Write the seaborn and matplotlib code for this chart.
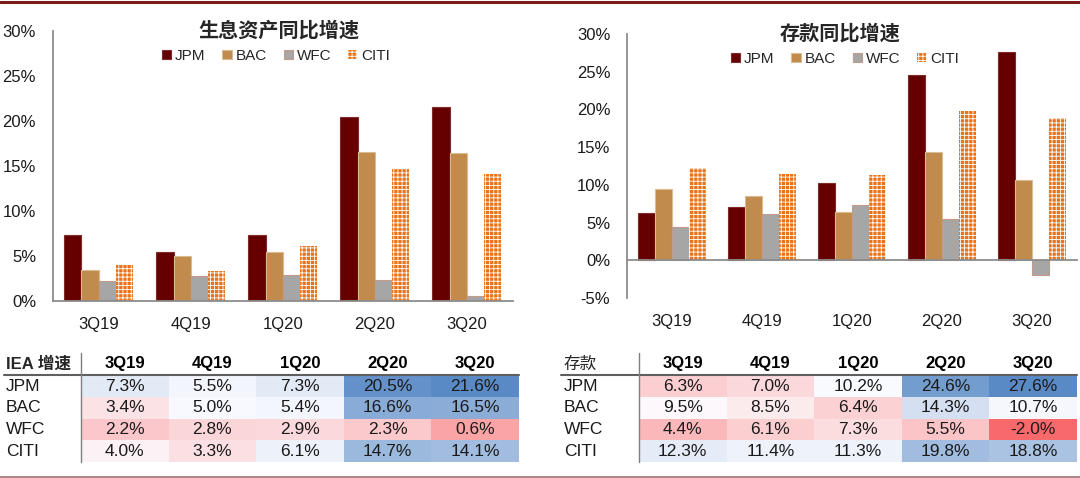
import numpy as np
import pandas as pd
import matplotlib
matplotlib.use("Agg")
import matplotlib.pyplot as plt
from matplotlib.colors import LinearSegmentedColormap
from matplotlib.lines import Line2D
from matplotlib.ticker import PercentFormatter
import seaborn as sns

# data
quarters = ["3Q19", "4Q19", "1Q20", "2Q20", "3Q20"]
banks = ["JPM", "BAC", "WFC", "CITI"]

iea_jpm = [7.3, 5.5, 7.3, 20.5, 21.6]
iea_bac = [3.4, 5.0, 5.4, 16.6, 16.5]
iea_wfc = [2.2, 2.8, 2.9, 2.3, 0.6]
iea_citi = [4.0, 3.3, 6.1, 14.7, 14.1]

dep_jpm = [6.3, 7.0, 10.2, 24.6, 27.6]
dep_bac = [9.5, 8.5, 6.4, 14.3, 10.7]
dep_wfc = [4.4, 6.1, 7.3, 5.5, -2.0]
dep_citi = [12.3, 11.4, 11.3, 19.8, 18.8]

left_title = "生息资产同比增速"
right_title = "存款同比增速"
left_corner = "IEA 增速"
right_corner = "存款"

sns.set_style("white")
plt.rcParams["font.family"] = ["Liberation Sans", "Noto Sans CJK SC"]
plt.rcParams["axes.unicode_minus"] = False
plt.rcParams["hatch.linewidth"] = 0.6

face = {"JPM": "#660000", "BAC": "#C08B4C", "WFC": "#A6A6A6", "CITI": "#E8731A"}
edge = {"JPM": "#7d2b2b", "BAC": "#D9BC92", "WFC": "#C49A8C", "CITI": "white"}
axis_grey = "#8c8c8c"

W, H = 1080, 478
fig = plt.figure(figsize=(W / 100, H / 100), dpi=100)


def rect(x0, y0, x1, y1):
    # pixel box -> figure fraction
    return [x0 / W, 1 - y1 / H, (x1 - x0) / W, (y1 - y0) / H]


def fline(x0, x1, y0, y1, **kw):
    fig.add_artist(Line2D([x0 / W, x1 / W], [1 - y0 / H, 1 - y1 / H], transform=fig.transFigure, **kw))


def bar_panel(box, series, ylim, step, title, title_xy, legend_xy, label_pad):
    ax = fig.add_axes(rect(*box))
    df = pd.DataFrame(series, index=quarters).reset_index(names="q")
    df = df.melt(id_vars="q", var_name="bank", value_name="v")
    sns.barplot(data=df, x="q", y="v", hue="bank", hue_order=banks, palette=face,
                width=0.75, saturation=1, errorbar=None, legend=False, ax=ax)
    for cont, b in zip(ax.containers, banks):
        for bar in cont:
            bar.set_edgecolor(edge[b])
            bar.set_linewidth(0.8 if b != "CITI" else 0)
            if b == "CITI":
                bar.set_hatch("++++")
    ax.set_ylim(*ylim)
    ax.set_yticks(np.arange(ylim[0], ylim[1] + 0.1, step))
    ax.yaxis.set_major_formatter(PercentFormatter(decimals=0))
    ax.set_xlabel("")
    ax.set_ylabel("")
    sns.despine(ax=ax)
    for s in ["left", "bottom"]:
        ax.spines[s].set_color(axis_grey)
        ax.spines[s].set_linewidth(1.3)
    ax.spines["bottom"].set_position(("data", 0))
    ax.set_xticks(np.arange(-0.5, len(quarters), 1), minor=True)
    ax.tick_params(axis="x", which="major", length=0, pad=label_pad, labelsize=12, colors="#1a1a1a")
    ax.tick_params(axis="x", which="minor", length=3.5, width=1.3, color=axis_grey, direction="out")
    ax.tick_params(axis="y", length=0, pad=12, labelsize=12, colors="#1a1a1a")
    ax.set_xlim(-0.5, len(quarters) - 0.5)
    fig.text(title_xy[0] / W, 1 - title_xy[1] / H, title, ha="center", va="center",
             fontsize=14.5, fontweight="bold", family="Noto Sans CJK SC")
    ax.legend(ax.containers, banks, loc="center", ncol=4, frameon=False, fontsize=11,
              bbox_to_anchor=(legend_xy[0] / W, 1 - legend_xy[1] / H), bbox_transform=fig.transFigure,
              handlelength=0.6, handleheight=0.6, handletextpad=0.25, columnspacing=1.1, borderpad=0)
    return ax


bar_panel((52.7, 31, 513, 301), {"JPM": iea_jpm, "BAC": iea_bac, "WFC": iea_wfc, "CITI": iea_citi},
          (0, 30), 5, left_title, (279, 30), (276, 56), 11.5)
bar_panel((627, 34, 1077, 298), {"JPM": dep_jpm, "BAC": dep_bac, "WFC": dep_wfc, "CITI": dep_citi},
          (-5, 30), 5, right_title, (840, 33), (845, 59), 39)


def table_panel(box, series, vmin, vcenter, vmax, corner, corner_bold, line_x0):
    x0, y0, x1, y1 = box
    ax = fig.add_axes(rect(*box))
    mat = pd.DataFrame(series, index=quarters).T
    pos = (vcenter - vmin) / (vmax - vmin)
    cmap = LinearSegmentedColormap.from_list("excel3", [(0, "#F8696B"), (pos, "#FCFCFF"), (1, "#5A8AC6")])
    annot = np.array([[f"{v:.1f}%" for v in row] for row in mat.values])
    sns.heatmap(mat, ax=ax, cmap=cmap, vmin=vmin, vmax=vmax, cbar=False, annot=annot, fmt="",
                annot_kws=dict(size=12.5, color="#1a1a1a"), xticklabels=quarters, yticklabels=banks)
    ax.xaxis.tick_top()
    ax.tick_params(axis="x", length=0, pad=3, labelsize=12, colors="black")
    for t in ax.get_xticklabels():
        t.set_fontweight("bold")
    ax.tick_params(axis="y", length=0, pad=54, labelsize=12.5, colors="#1a1a1a", rotation=0)
    for t in ax.get_yticklabels():
        t.set_horizontalalignment("left")
    ax.set_xlabel("")
    ax.set_ylabel("")
    fig.text((line_x0 + 3) / W, 1 - 364 / H, corner, ha="left", va="center", fontsize=12,
             fontweight="bold" if corner_bold else "normal")
    fline(line_x0, x1, y0 - 1, y0 - 1, color="#5f5f5f", lw=1.5)
    fline(x0, x0, 353, y1, color="#7f7f7f", lw=1)


table_panel((81, 375.5, 519, 462), {"JPM": iea_jpm, "BAC": iea_bac, "WFC": iea_wfc, "CITI": iea_citi},
            -2, 4.5, 21.6, left_corner, True, 3.5)
table_panel((639, 375.5, 1077, 462), {"JPM": dep_jpm, "BAC": dep_bac, "WFC": dep_wfc, "CITI": dep_citi},
            -2, 9.85, 27.6, right_corner, False, 561)

# page borders
fline(0, W, 2, 2, color="#7B1C1C", lw=2.2)
fline(0, W, 476.5, 476.5, color="#A07070", lw=1.2)

fig.savefig("out.png", dpi=100)
